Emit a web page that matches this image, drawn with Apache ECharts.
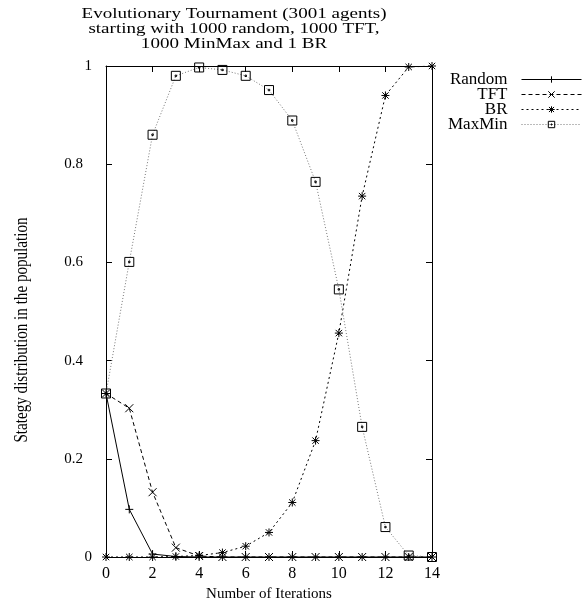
<!DOCTYPE html>
<html>
<head>
<meta charset="utf-8">
<script src="https://cdn.jsdelivr.net/npm/echarts@6/dist/echarts.min.js"></script>
<style>
  html, body { margin: 0; padding: 0; background: #fff; }
  #chart { width: 584px; height: 608px; }
</style>
</head>
<body>
<div id="chart"></div>
<script>
// Population share of each strategy per iteration
const iterations = [0, 1, 2, 3, 4, 5, 6, 7, 8, 9, 10, 11, 12, 13, 14];
const randomShare = [0.333, 0.097, 0.006, 0.001, 0, 0, 0, 0, 0, 0, 0, 0, 0, 0, 0];
const tftShare    = [0.333, 0.303, 0.132, 0.019, 0.002, 0, 0, 0, 0, 0, 0, 0, 0, 0, 0];
const brShare     = [0, 0, 0, 0.001, 0.003, 0.009, 0.022, 0.050, 0.111, 0.237, 0.456, 0.735, 0.940, 0.998, 1.0];
const maxMinShare = [0.333, 0.601, 0.860, 0.980, 0.997, 0.992, 0.980, 0.951, 0.889, 0.764, 0.545, 0.265, 0.061, 0.003, 0];

const seriesNames = ['Random', 'TFT', 'BR', 'MaxMin'];
const xTicks = [0, 2, 4, 6, 8, 10, 12, 14];
const yTicks = [0, 0.2, 0.4, 0.6, 0.8, 1];

const SERIF = '"Liberation Serif", "DejaVu Serif", serif';

const markerPlus  = 'path://M0,5L10,5M5,0L5,10';
const markerCross = 'path://M0,0L10,10M10,0L0,10';
const markerStar  = 'path://M0,5L10,5M5,0L5,10M1,1L9,9M9,1L1,9';
const markerBox   = 'path://M0,0L10,0L10,10L0,10Z M4.2,4.2L5.8,4.2L5.8,5.8L4.2,5.8Z';

function pairs(values) {
  return iterations.map((x, i) => [x, values[i]]);
}

function lineSeries(name, values, symbol, size, lineColor, dash) {
  return {
    name: name,
    type: 'line',
    data: pairs(values),
    symbol: symbol,
    symbolSize: size,
    showSymbol: true,
    itemStyle: { color: 'rgba(0,0,0,0)', borderColor: '#000', borderWidth: 1 },
    lineStyle: { color: lineColor, width: 1, type: dash },
    emphasis: { disabled: true },
    animation: false
  };
}

const chart = echarts.init(document.getElementById('chart'), null, { renderer: 'canvas' });

const tickStyle = { inside: true, length: 6, lineStyle: { color: '#000', width: 1 } };

chart.setOption({
  backgroundColor: '#fff',
  animation: false,
  grid: { left: 106, right: 152, top: 66, bottom: 51, show: false },
  graphic: [
    {
      type: 'text',
      x: 234, y: 7,
      scaleX: 1.27,
      style: {
        text: 'Evolutionary Tournament (3001 agents)\nstarting with 1000 random, 1000 TFT,\n1000 MinMax and 1 BR',
        font: '15px ' + SERIF,
        fill: '#000',
        align: 'center',
        verticalAlign: 'top',
        lineHeight: 15
      }
    },
    {
      type: 'text',
      x: 22, y: 330,
      rotation: Math.PI / 2,
      scaleX: 0.84,
      style: {
        text: 'Stategy distribution in the population',
        font: '18px ' + SERIF,
        fill: '#000',
        align: 'center',
        verticalAlign: 'middle'
      }
    }
  ],
  legend: {
    orient: 'vertical',
    right: -3,
    top: 66,
    align: 'right',
    itemWidth: 60,
    itemHeight: 8,
    itemGap: -2,
    data: seriesNames,
    lineStyle: { width: 1 },
    itemStyle: { borderWidth: 1 },
    textStyle: { fontFamily: SERIF, fontSize: 17, lineHeight: 15, color: '#000', padding: [0, 9, 0, 0] }
  },
  xAxis: [
    {
      type: 'value', position: 'bottom', min: 0, max: 14, interval: 2,
      axisLine: { show: true, onZero: false, lineStyle: { color: '#000', width: 1 } },
      axisTick: tickStyle,
      splitLine: { show: false },
      axisLabel: {
        margin: 9, fontFamily: SERIF, fontSize: 16, color: '#000',
        formatter: v => xTicks.includes(v) ? String(v) : ''
      },
      name: 'Number of Iterations',
      nameLocation: 'middle',
      nameGap: 27,
      nameTextStyle: { fontFamily: SERIF, fontSize: 15, color: '#000' }
    },
    {
      type: 'value', position: 'top', min: 0, max: 14, interval: 2,
      axisLine: { show: true, onZero: false, lineStyle: { color: '#000', width: 1 } },
      axisTick: tickStyle,
      splitLine: { show: false },
      axisLabel: { show: false }
    }
  ],
  yAxis: [
    {
      type: 'value', position: 'left', min: 0, max: 1, interval: 0.2,
      axisLine: { show: true, onZero: false, lineStyle: { color: '#000', width: 1 } },
      axisTick: tickStyle,
      splitLine: { show: false },
      axisLabel: {
        margin: 14, fontFamily: SERIF, fontSize: 15, color: '#000',
        formatter: v => {
          const t = yTicks.find(y => Math.abs(y - v) < 1e-9);
          if (t === undefined) return '';
          return Number.isInteger(t) ? String(t) : '{d|' + t + '}';
        },
        rich: { d: { fontFamily: SERIF, fontSize: 15, color: '#000', padding: [0, 9, 0, 0] } }
      }
    },
    {
      type: 'value', position: 'right', min: 0, max: 1, interval: 0.2,
      axisLine: { show: true, onZero: false, lineStyle: { color: '#000', width: 1 } },
      axisTick: tickStyle,
      splitLine: { show: false },
      axisLabel: { show: false }
    }
  ],
  series: [
    lineSeries('Random', randomShare, markerPlus, 8, '#000', 'solid'),
    lineSeries('TFT', tftShare, markerCross, 8, '#000', [4, 3]),
    lineSeries('BR', brShare, markerStar, 8, '#000', [2, 3]),
    lineSeries('MaxMin', maxMinShare, markerBox, 9, '#777', [1, 2])
  ]
});
</script>
</body>
</html>
